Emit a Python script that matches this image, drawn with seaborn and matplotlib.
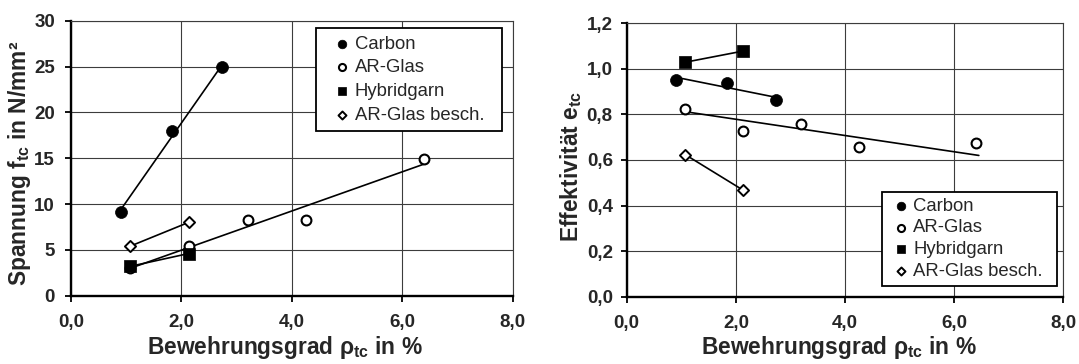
import matplotlib
matplotlib.use("Agg")
import matplotlib.pyplot as plt
import seaborn as sns

# ---- data -----------------------------------------------------------------
series_names = ["Carbon", "AR-Glas", "Hybridgarn", "AR-Glas besch."]

carbon_rho = [0.91, 1.83, 2.74]
carbon_f = [9.15, 18.0, 24.9]
carbon_e = [0.952, 0.940, 0.864]

arglas_rho = [1.07, 2.13, 3.20, 4.25, 6.39]
arglas_f = [3.0, 5.4, 8.3, 8.3, 14.9]
arglas_e = [0.824, 0.727, 0.760, 0.659, 0.676]

hybrid_rho = [1.07, 2.13]
hybrid_f = [3.2, 4.6]
hybrid_e = [1.029, 1.078]

besch_rho = [1.07, 2.13]
besch_f = [5.4, 8.0]
besch_e = [0.624, 0.468]

# trend line of the AR-Glas effectiveness
arglas_e_trend_rho = [1.07, 6.45]
arglas_e_trend = [0.812, 0.620]

x_ticks = [0, 2, 4, 6, 8]
x_tick_labels = ["0,0", "2,0", "4,0", "6,0", "8,0"]
f_ticks = [0, 5, 10, 15, 20, 25, 30]
f_tick_labels = ["0", "5", "10", "15", "20", "25", "30"]
e_ticks = [0, 0.2, 0.4, 0.6, 0.8, 1.0, 1.2]
e_tick_labels = ["0,0", "0,2", "0,4", "0,6", "0,8", "1,0", "1,2"]

rho = {"Carbon": carbon_rho, "AR-Glas": arglas_rho,
       "Hybridgarn": hybrid_rho, "AR-Glas besch.": besch_rho}
f_tc = {"Carbon": carbon_f, "AR-Glas": arglas_f,
        "Hybridgarn": hybrid_f, "AR-Glas besch.": besch_f}
e_tc = {"Carbon": carbon_e, "AR-Glas": arglas_e,
        "Hybridgarn": hybrid_e, "AR-Glas besch.": besch_e}

# ---- style ----------------------------------------------------------------
sns.set_theme(style="white")
plt.rcParams["font.family"] = ["Liberation Sans", "DejaVu Sans"]
plt.rcParams["mathtext.fontset"] = "custom"
plt.rcParams["mathtext.rm"] = "Liberation Sans:bold"
plt.rcParams["mathtext.it"] = "Liberation Sans:bold"
plt.rcParams["mathtext.bf"] = "Liberation Sans:bold"

marker_styles = {
    "Carbon": dict(marker="o", s=74, color="black", edgecolor="black", linewidth=0.5),
    "AR-Glas": dict(marker="o", s=50, color="white", edgecolor="black", linewidth=1.5),
    "Hybridgarn": dict(marker="s", s=70, color="black", edgecolor="black", linewidth=0.5),
    "AR-Glas besch.": dict(marker="D", s=32, color="white", edgecolor="black", linewidth=1.4),
}

GRID = "#3c3c3c"
TICK_FS = 13.5
LABEL_FS = 16.4
LEGEND_FS = 13.3

fig = plt.figure(figsize=(10.79, 3.64), dpi=100)
ax_f = fig.add_axes([0.0658, 0.1876, 0.4094, 0.7555])
ax_e = fig.add_axes([0.5808, 0.1849, 0.4048, 0.7511])


def style_axes(ax, yticks, yticklabels, ylim, ypad):
    ax.set_xlim(0, 8)
    ax.set_ylim(*ylim)
    ax.set_xticks(x_ticks)
    ax.set_xticklabels(x_tick_labels)
    ax.set_yticks(yticks)
    ax.set_yticklabels(yticklabels)
    ax.set_axisbelow(True)
    ax.grid(True, color=GRID, linewidth=0.8)
    for side in ("left", "bottom"):
        ax.spines[side].set_color("black")
        ax.spines[side].set_linewidth(1.7)
    for side in ("top", "right"):
        ax.spines[side].set_color(GRID)
        ax.spines[side].set_linewidth(0.8)
    ax.tick_params(axis="x", direction="out", length=4.5, width=1.3,
                   color="black", pad=8.5, labelsize=TICK_FS)
    ax.tick_params(axis="y", direction="out", length=4.5, width=1.3,
                   color="black", pad=ypad, labelsize=TICK_FS)
    for lab in ax.get_xticklabels() + ax.get_yticklabels():
        lab.set_fontweight("bold")
    ax.tick_params(bottom=True, left=True, top=False, right=False)


def draw_series(ax, values, fit_all=True):
    for name in series_names:
        x = rho[name]
        y = values[name]
        if fit_all or name != "AR-Glas":
            sns.regplot(x=x, y=y, ax=ax, scatter=False, ci=None, truncate=True,
                        color="black", line_kws=dict(linewidth=1.2, zorder=2))
    for name in series_names:
        sns.scatterplot(x=rho[name], y=values[name], ax=ax, label=name,
                        zorder=3, **marker_styles[name])


# left panel: tensile stress
draw_series(ax_f, f_tc)
style_axes(ax_f, f_ticks, f_tick_labels, (0, 30), 7)
ax_f.set_ylabel(r"Spannung $\mathrm{f_{tc}}$ in N/mm²", fontsize=LABEL_FS,
                fontweight="bold")
ax_f.set_xlabel(r"Bewehrungsgrad $\mathrm{ρ_{tc}}$ in %", fontsize=LABEL_FS,
                fontweight="bold")
ax_f.yaxis.set_label_coords(-0.085, 0.48)
ax_f.xaxis.set_label_coords(0.485, -0.14)

# right panel: effectiveness
draw_series(ax_e, e_tc, fit_all=False)
sns.lineplot(x=arglas_e_trend_rho, y=arglas_e_trend, ax=ax_e, color="black",
             linewidth=1.2, zorder=2)
style_axes(ax_e, e_ticks, e_tick_labels, (0, 1.2), 5.5)
ax_e.set_ylabel(r"Effektivität $\mathrm{e_{tc}}$", fontsize=LABEL_FS,
                fontweight="bold")
ax_e.set_xlabel(r"Bewehrungsgrad $\mathrm{ρ_{tc}}$ in %", fontsize=LABEL_FS,
                fontweight="bold")
ax_e.yaxis.set_label_coords(-0.097, 0.475)
ax_e.xaxis.set_label_coords(0.485, -0.137)


def add_legend(ax, box, loc, spacing, pad, hlen, tpad):
    leg = ax.legend(loc=loc, bbox_to_anchor=box, bbox_transform=fig.transFigure,
                    mode="expand", fontsize=LEGEND_FS, frameon=True,
                    fancybox=False, edgecolor="black", framealpha=1,
                    borderaxespad=0, markerscale=0.72, scatterpoints=1,
                    handlelength=hlen, handletextpad=tpad,
                    labelspacing=spacing, borderpad=pad)
    leg.get_frame().set_linewidth(1.3)
    return leg


add_legend(ax_f, (0.29286, 0.63654, 0.17210, 0.28571), "upper left",
           0.36, 0.4, 1.98, -0.27)
add_legend(ax_e, (0.81715, 0.21429, 0.16219, 0.26374), "lower left",
           0.26, 0.32, 1.4, -0.02)

fig.savefig("out.png", dpi=100)
